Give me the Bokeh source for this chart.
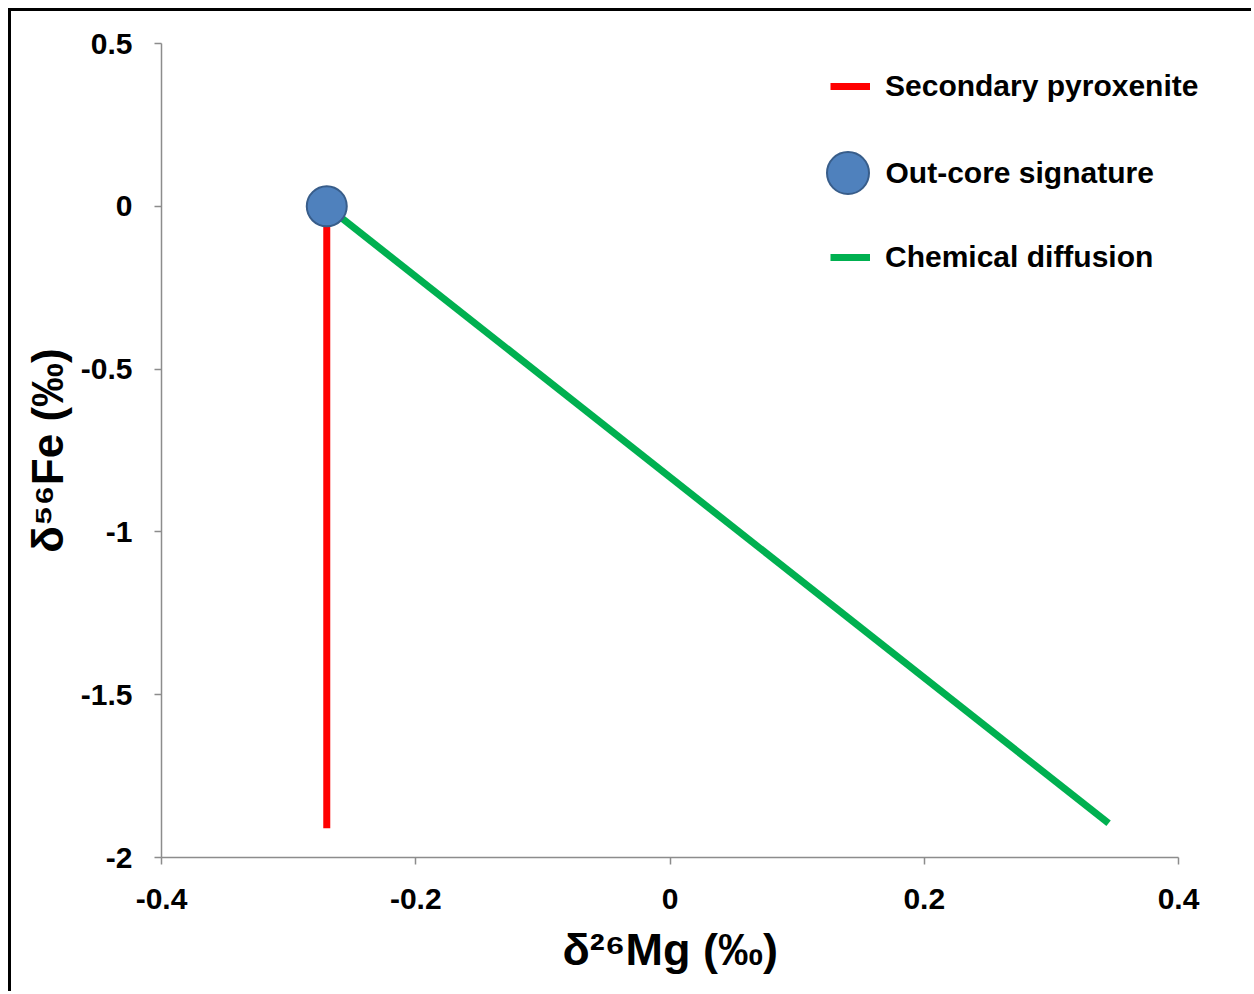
from bokeh.plotting import figure
from bokeh.models import Range1d, Legend, LegendItem, FixedTicker, Label, Title
from bokeh.embed import file_html
from bokeh.resources import INLINE

# Data
point_x = [-0.27]
point_y = [0.0]
pyrox_x = [-0.27, -0.27]
pyrox_y = [0.0, -1.91]
diff_x = [-0.27, 0.345]
diff_y = [0.0, -1.895]
x_ticks = [-0.4, -0.2, 0, 0.2, 0.4]
y_ticks = [-2, -1.5, -1, -0.5, 0, 0.5]
x_tick_labels = {-0.4: "-0.4", -0.2: "-0.2", 0: "0", 0.2: "0.2", 0.4: "0.4"}
y_tick_labels = {-2: "-2", -1.5: "-1.5", -1: "-1", -0.5: "-0.5", 0: "0", 0.5: "0.5"}

x_lo, x_hi = -0.4, 0.4
# extra room at the right of the frame so the legend text is not clipped
axis_px = 1017.0
extra_px = 56.0
x_end = x_hi + (x_hi - x_lo) * extra_px / axis_px

p = figure(width=1243, height=983, output_backend="svg", toolbar_location=None,
           x_range=Range1d(x_lo, x_end), y_range=Range1d(-2, 0.5),
           min_border_left=150, min_border_top=32, min_border_right=20, min_border_bottom=137,
           margin=(8, 0, 0, 8),
           styles={"border-left": "3px solid black", "border-top": "3px solid black"})
p.outline_line_color = None
p.xgrid.visible = False
p.ygrid.visible = False

font = "Liberation Sans"
for ax in (p.xaxis[0], p.yaxis[0]):
    ax.axis_line_color = "#8c8c8c"
    ax.axis_line_width = 1.5
    ax.major_tick_line_color = "#8c8c8c"
    ax.major_tick_line_width = 1.5
    ax.major_tick_in = 0
    ax.major_tick_out = 7
    ax.minor_tick_line_color = None
    ax.major_label_text_font = font
    ax.major_label_text_font_style = "bold"
    ax.major_label_text_font_size = "30px"
    ax.major_label_text_color = "black"
    ax.axis_label_text_font = font
    ax.axis_label_text_font_style = "bold"
    ax.axis_label_text_font_size = "44px"
    ax.axis_label_text_color = "black"

p.xaxis[0].bounds = (x_lo, x_hi)
p.xaxis[0].ticker = FixedTicker(ticks=x_ticks)
p.yaxis[0].ticker = FixedTicker(ticks=y_ticks)
p.xaxis[0].major_label_overrides = x_tick_labels
p.yaxis[0].major_label_overrides = y_tick_labels
p.xaxis[0].major_label_standoff = 24
p.yaxis[0].major_label_standoff = 22
p.yaxis[0].axis_label = "δ⁵⁶Fe (‰)"
p.yaxis[0].axis_label_standoff = 6

# x-axis title as a below-title so it can be centred on the axis, not the frame
xt = Title(text="δ²⁶Mg (‰)", align="left", offset=401, standoff=20,
           text_font=font, text_font_style="bold", text_font_size="45px",
           text_color="black")
p.add_layout(xt, "below")

r_red = p.line(pyrox_x, pyrox_y, line_color="#FF0000", line_width=7)
r_green = p.line(diff_x, diff_y, line_color="#00B050", line_width=7)
r_pt = p.scatter(point_x, point_y, size=40, fill_color="#4F81BD",
                 line_color="#385D8A", line_width=2)


def style_legend(lg):
    lg.padding = 0
    lg.margin = 0
    lg.border_line_color = None
    lg.background_fill_alpha = 0
    lg.label_text_font = font
    lg.label_text_font_style = "bold"
    lg.label_text_font_size = "30px"
    lg.label_text_color = "black"


legend_lines = Legend(items=[
    LegendItem(label="Secondary pyroxenite", renderers=[r_red]),
    LegendItem(label="Chemical diffusion", renderers=[r_green]),
], location=(669, 580))
legend_lines.glyph_width = 40
legend_lines.glyph_height = 40
legend_lines.label_height = 40
legend_lines.spacing = 131
legend_lines.label_standoff = 15
style_legend(legend_lines)
p.add_layout(legend_lines)

legend_pt = Legend(items=[
    LegendItem(label=" ", renderers=[r_pt]),
], location=(634, 632))
legend_pt.glyph_width = 105
legend_pt.glyph_height = 105
legend_pt.label_height = 105
legend_pt.label_standoff = 0
style_legend(legend_pt)
p.add_layout(legend_pt)

pt_label = Label(x=724, y=685, x_units="screen", y_units="screen",
                 text="Out-core signature", text_font=font, text_font_style="bold",
                 text_font_size="30px", text_color="black",
                 text_align="left", text_baseline="middle")
p.add_layout(pt_label)

open("out.html", "w").write(file_html(p, INLINE))
